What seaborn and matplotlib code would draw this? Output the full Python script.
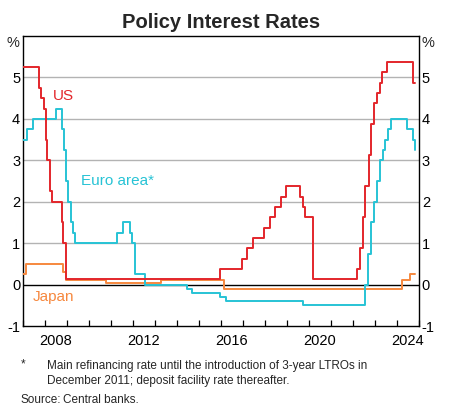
import numpy as np
import pandas as pd
import matplotlib
matplotlib.use("Agg")
import matplotlib.pyplot as plt
import seaborn as sns

# ---------------- data ----------------
us_dates = ["2007-01-01", "2007-09-18", "2007-10-31", "2007-12-11", "2008-01-22", "2008-01-30",
            "2008-03-18", "2008-04-30", "2008-10-08", "2008-10-29", "2008-12-16", "2015-12-16",
            "2016-12-14", "2017-03-15", "2017-06-14", "2017-12-13", "2018-03-21", "2018-06-13",
            "2018-09-26", "2018-12-19", "2019-07-31", "2019-09-18", "2019-10-30", "2020-03-03",
            "2020-03-15", "2022-03-16", "2022-05-04", "2022-06-15", "2022-07-27", "2022-09-21",
            "2022-11-02", "2022-12-14", "2023-02-01", "2023-03-22", "2023-05-03", "2023-07-26",
            "2024-09-18", "2024-10-31"]
us_rates = [5.25, 4.75, 4.50, 4.25, 3.50, 3.00,
            2.25, 2.00, 1.50, 1.00, 0.125, 0.375,
            0.625, 0.875, 1.125, 1.375, 1.625, 1.875,
            2.125, 2.375, 2.125, 1.875, 1.625, 1.125,
            0.125, 0.375, 0.875, 1.625, 2.375, 3.125,
            3.875, 4.375, 4.625, 4.875, 5.125, 5.375,
            4.875, 4.875]

euro_dates = ["2007-01-01", "2007-03-14", "2007-06-13", "2008-07-09", "2008-10-15", "2008-11-12",
              "2008-12-10", "2009-01-21", "2009-03-11", "2009-04-08", "2009-05-13", "2011-04-13",
              "2011-07-13", "2011-11-09", "2011-12-14", "2012-01-31", "2012-07-11", "2014-06-11",
              "2014-09-10", "2015-12-09", "2016-03-16", "2019-09-18", "2022-07-27", "2022-09-14",
              "2022-11-02", "2022-12-21", "2023-02-08", "2023-03-22", "2023-05-10", "2023-06-21",
              "2023-08-02", "2023-09-20", "2024-06-12", "2024-09-18", "2024-10-23", "2024-10-31"]
euro_rates = [3.50, 3.75, 4.00, 4.25, 3.75, 3.25,
              2.50, 2.00, 1.50, 1.25, 1.00, 1.25,
              1.50, 1.25, 1.00, 0.25, 0.00, -0.10,
              -0.20, -0.30, -0.40, -0.50, 0.00, 0.75,
              1.50, 2.00, 2.50, 3.00, 3.25, 3.50,
              3.75, 4.00, 3.75, 3.50, 3.25, 3.25]

japan_dates = ["2007-01-01", "2007-02-21", "2008-10-31", "2008-12-19", "2010-10-05", "2013-04-04",
               "2016-02-16", "2024-03-19", "2024-07-31", "2024-10-31"]
japan_rates = [0.25, 0.50, 0.30, 0.10, 0.05, 0.10,
               -0.10, 0.10, 0.25, 0.25]

y_ticks = [-1, 0, 1, 2, 3, 4, 5]
x_label_years = [2008, 2012, 2016, 2020, 2024]

title = "Policy Interest Rates"
series_labels = {"US": "US", "Euro": "Euro area*", "Japan": "Japan"}
footnote_1 = "Main refinancing rate until the introduction of 3-year LTROs in"
footnote_2 = "December 2011; deposit facility rate thereafter."
source = "Central banks."

# ---------------- helpers ----------------
def dec_year(dates):
    d = pd.to_datetime(pd.Series(dates))
    start = pd.to_datetime(d.dt.year.astype(str) + "-01-01")
    end = pd.to_datetime((d.dt.year + 1).astype(str) + "-01-01")
    return (d.dt.year + (d - start) / (end - start)).to_numpy()

frames = []
for name, dates, vals in [("US", us_dates, us_rates), ("Euro", euro_dates, euro_rates),
                          ("Japan", japan_dates, japan_rates)]:
    frames.append(pd.DataFrame({"t": dec_year(dates), "rate": vals, "series": name}))
df = pd.concat(frames, ignore_index=True)

colors = {"US": "#e3262b", "Euro": "#27c3d5", "Japan": "#f6883e"}

# ---------------- plot ----------------
sns.set_theme(style="white")
plt.rcParams["font.family"] = ["Liberation Sans", "DejaVu Sans"]

fig = plt.figure(figsize=(4.59, 4.17), dpi=100)
ax = fig.add_axes([23 / 459, 1 - 326 / 417, (419 - 23) / 459, (326 - 36) / 417])

for s in y_ticks[2:]:
    ax.axhline(s, color="#b3b3b3", lw=1.0, zorder=0)
ax.axhline(0, color="black", lw=1.0, zorder=1)

for name in ["Japan", "Euro", "US"]:
    sub = df[df["series"] == name]
    sns.lineplot(data=sub, x="t", y="rate", ax=ax, color=colors[name], lw=1.4,
                 drawstyle="steps-post", estimator=None, sort=False, legend=False, zorder=3)

ax.set_xlim(2007, 2025)
ax.set_ylim(-1, 6)
ax.set_xlabel("")
ax.set_ylabel("")

# x ticks: year boundaries (inward), labels in mid-year
ax.set_xticks(np.arange(2007, 2026, 1))
ax.set_xticklabels([])
ax.tick_params(axis="x", which="major", direction="in", length=4, width=0.9, color="black",
               bottom=True, top=False)
ax.set_xticks([y + 0.5 for y in x_label_years], minor=True)
ax.set_xticklabels([str(y) for y in x_label_years], minor=True)
ax.tick_params(axis="x", which="minor", length=0, pad=6, labelsize=10.5, labelcolor="black")

ax.set_yticks(y_ticks)
ax.set_yticklabels([str(v) for v in y_ticks])
ax.tick_params(axis="y", which="both", length=0, pad=2, labelsize=10.5, labelcolor="black",
               left=True, right=True, labelleft=True, labelright=True)

for sp in ax.spines.values():
    sp.set_visible(True)
    sp.set_color("black")
    sp.set_linewidth(1.0)

ax.text(-0.008, 0.975, "%", transform=ax.transAxes, ha="right", va="center", fontsize=10.5)
ax.text(1.006, 0.975, "%", transform=ax.transAxes, ha="left", va="center", fontsize=10.5)

# series labels
ax.text(2008.85, 4.55, series_labels["US"], color=colors["US"], fontsize=11, ha="center", va="center")
ax.text(2009.62, 2.49, series_labels["Euro"], color=colors["Euro"], fontsize=11, ha="left", va="center")
ax.text(2007.45, -0.31, series_labels["Japan"], color=colors["Japan"], fontsize=11, ha="left", va="center")

fig.text(221 / 459, 1 - 22 / 417, title, ha="center", va="center", fontsize=14.5, fontweight="bold")

fig.text(23 / 459, 1 - 364 / 417, "*", ha="center", va="center", fontsize=8.5)
fig.text(47 / 459, 1 - 366 / 417, footnote_1, ha="left", va="center", fontsize=8.5)
fig.text(47 / 459, 1 - 381 / 417, footnote_2, ha="left", va="center", fontsize=8.5)
fig.text(20.5 / 459, 1 - 400 / 417, "Source:", ha="left", va="center", fontsize=8.5)
fig.text(63 / 459, 1 - 400 / 417, source, ha="left", va="center", fontsize=8.5)

fig.savefig("out.png", dpi=100)
